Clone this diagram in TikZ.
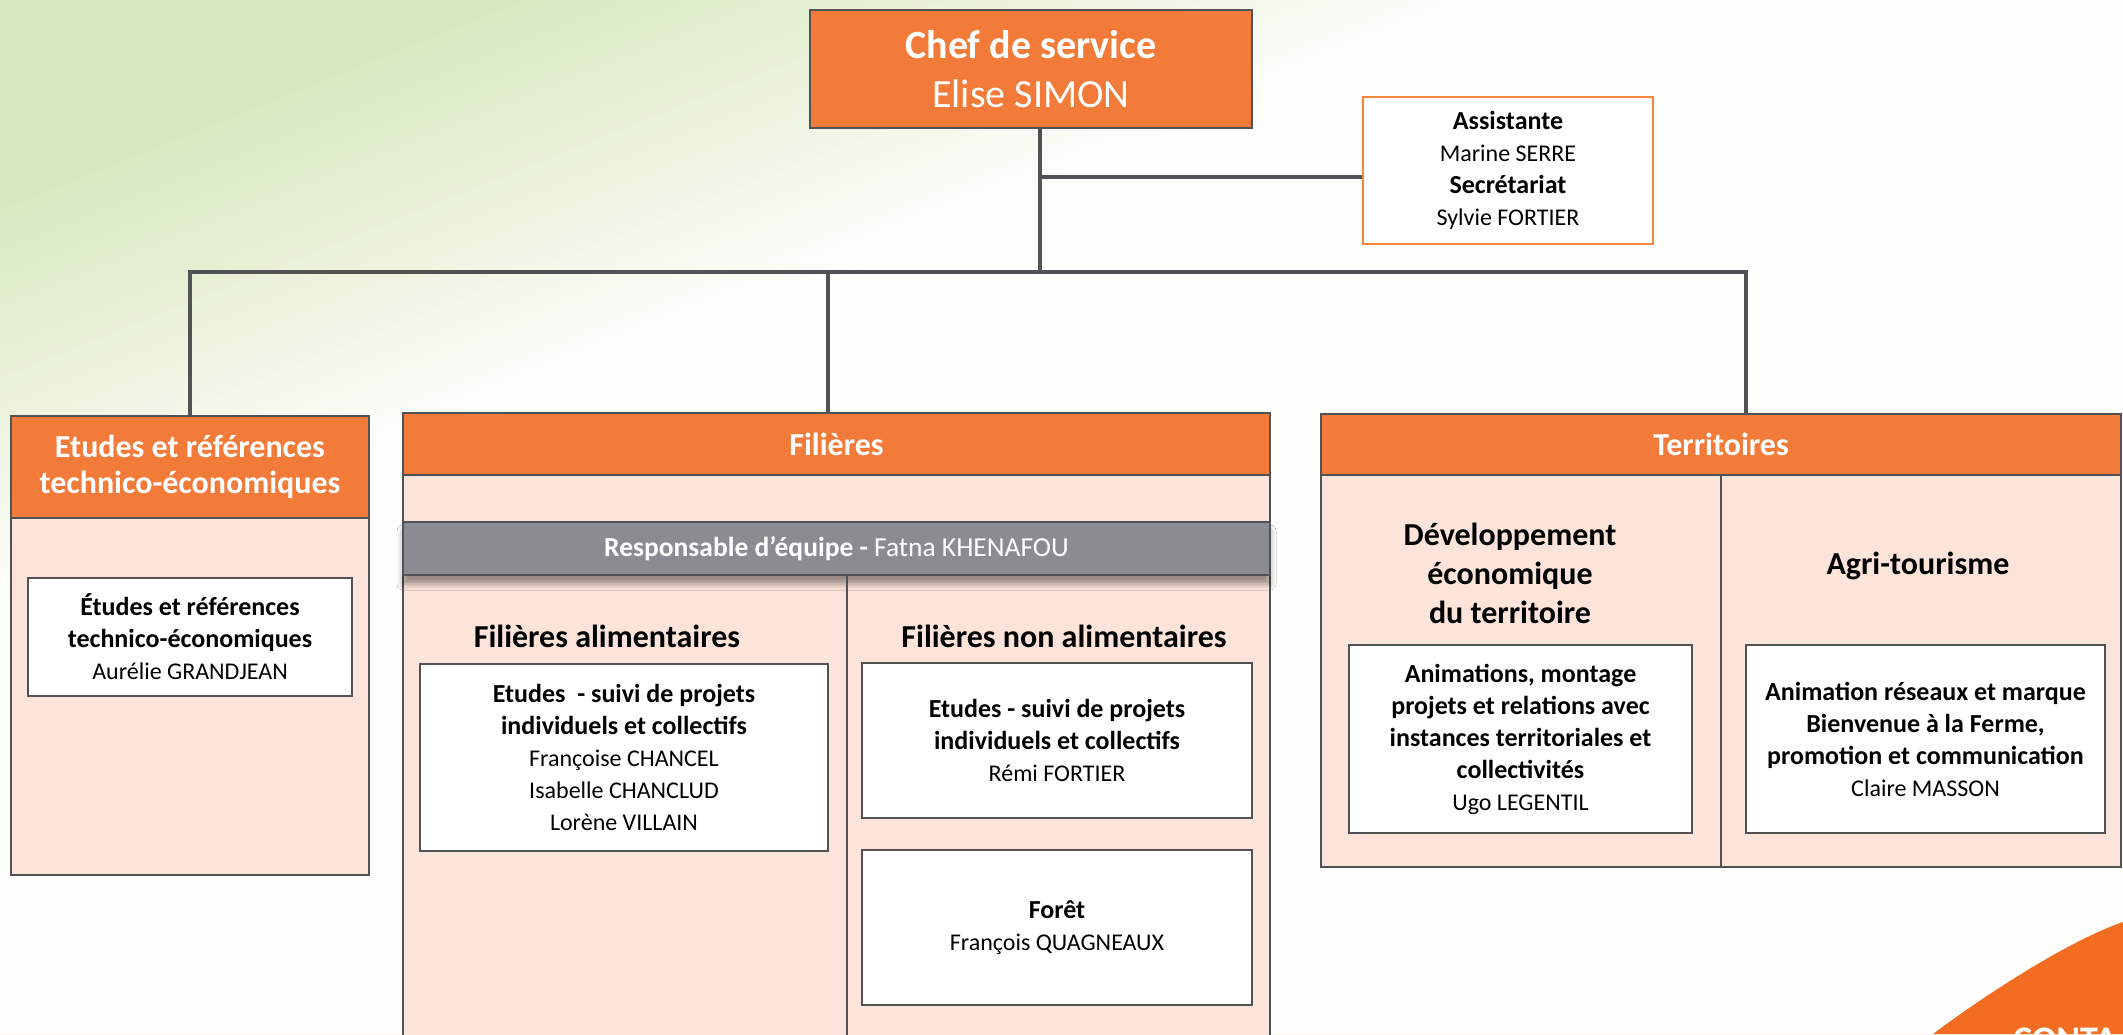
\documentclass[tikz,border=0pt]{standalone}
\usepackage{fontspec}
\setmainfont{Carlito}
\usetikzlibrary{shadows.blur}

\definecolor{hdrorange}{RGB}{242,123,58}
\definecolor{cornerorange}{RGB}{242,108,33}
\definecolor{bodypink}{RGB}{252,228,219}
\definecolor{edgegrey}{RGB}{80,82,86}
\definecolor{bandgrey}{RGB}{137,140,144}
\definecolor{assistorange}{RGB}{245,133,66}
\definecolor{bggreen}{RGB}{216,232,190}

\newcommand{\who}[1]{{\mdseries\fontsize{24}{30}\selectfont #1}}

\tikzset{
	wh/.style 2 args={minimum width=#1pt, minimum height=#2pt},
	hdr/.style={fill=hdrorange, draw=edgegrey, line width=2.5pt, text=white, align=center, inner sep=0pt, font=\fontsize{32}{36}\selectfont\bfseries},
	panel/.style={fill=bodypink, draw=edgegrey, line width=2.5pt, inner sep=0pt},
	card/.style={fill=white, draw=edgegrey, line width=2.5pt, align=center, inner sep=0pt, font=\fontsize{26}{32}\selectfont\bfseries},
	sub/.style={align=center, inner sep=0pt, font=\fontsize{32}{39}\selectfont\bfseries},
	link/.style={draw=edgegrey, line width=3.5pt},
}

\begin{document}
\begin{tikzpicture}[x=1pt,y=-1pt]

	\pgfmathsetmacro{\busy}{272}
	\pgfmathsetmacro{\slope}{0.4}

	\useasboundingbox (0,0) rectangle (2123,1034);
	\clip (0,0) rectangle (2123,1034);

	% background
	\fill[bggreen] (0,0) rectangle (2123,1034);
	\foreach \i in {0,...,38}{
		\pgfmathsetmacro{\pct}{max(0,100-2.5*(\i+1))}
		\pgfmathsetmacro{\ya}{210+10.5*\i}
		\pgfmathsetmacro{\yb}{\ya-\slope*2123}
		\fill[bggreen!\pct!white] (0,\ya) -- (2123,\yb) -- (2123,1034) -- (0,1034) -- cycle;
	}

	% corner
	\fill[cornerorange] (1933,1034) .. controls (1978,1000) and (2065,942) .. (2123,922) -- (2123,1034) -- cycle;
	\node[anchor=north west, inner sep=0pt, text=white, font=\fontsize{36}{40}\selectfont\bfseries] (contact) at (2013,1028) {CONTA};

	% chef and assistant
	\node[hdr, wh={442}{118}, font=\fontsize{40}{49}\selectfont] (chef) at (1031,69) {\textbf{Chef de service}\\Elise SIMON};
	\node[card, draw=assistorange, wh={290}{147}] (assist) at (1508,170.5)
		{Assistante\\\who{Marine SERRE}\\Secrétariat\\\who{Sylvie FORTIER}};

	% etudes
	\node[panel, wh={358}{357}] (etBody) at (190,696.5) {};
	\node[hdr, wh={358}{102}, font=\fontsize{32}{36}\selectfont\bfseries] (etHdr) at (190,467) {Etudes et références\\technico-économiques};
	\node[card, wh={324}{118}] (etCard) at (190,637) {Études et références\\technico-économiques\\\who{Aurélie GRANDJEAN}};

	% filieres
	\node[panel, wh={867}{570}] (filBody) at (836.5,760) {};
	\node[hdr, wh={867}{62}] (filHdr) at (836.5,444) {Filières};
	\node[fill=bandgrey, draw=edgegrey, line width=2pt, wh={867}{53}, inner sep=0pt, text=white,
		font=\fontsize{27.5}{30}\selectfont,
		blur shadow={shadow xshift=0pt, shadow yshift=-9pt, shadow blur radius=6pt, shadow opacity=40}]
		(band) at (836.5,548.5) {\textbf{Responsable d’équipe -} Fatna KHENAFOU};
	\coordinate (fdiv) at (847,1045);
	\draw[edgegrey, line width=2pt] (fdiv |- band.south) -- (fdiv);

	\node[sub, anchor=base] (alim) at (607,647) {Filières alimentaires};
	\node[sub, anchor=base] (nonalim) at (1064,647) {Filières non alimentaires};
	\node[card, wh={408}{187}] (alimCard) at (624,757.5)
		{Etudes \ - suivi de projets\\individuels et collectifs\\\who{Françoise CHANCEL}\\\who{Isabelle CHANCLUD}\\\who{Lorène VILLAIN}};
	\node[card, wh={390}{155}] (nonCard) at (1057,740.5)
		{Etudes - suivi de projets\\individuels et collectifs\\\who{Rémi FORTIER}};
	\node[card, wh={390}{155}] (foret) at (1057,927.5) {Forêt\\\who{François QUAGNEAUX}};

	% territoires
	\node[panel, wh={800}{392}] (terBody) at (1721,671) {};
	\node[hdr, wh={800}{61}] (terHdr) at (1721,444.5) {Territoires};
	\draw[edgegrey, line width=2pt] (terHdr.south) -- (terBody.south);

	\node[sub] (dev) at (1510,573) {Développement\\économique\\du territoire};
	\node[sub, anchor=base] (agri) at (1918,574) {Agri-tourisme};
	\node[card, wh={343}{188}] (devCard) at (1520.5,739)
		{Animations, montage\\projets et relations avec\\instances territoriales et\\collectivités\\\who{Ugo LEGENTIL}};
	\node[card, wh={359}{188}] (agriCard) at (1925.5,739)
		{Animation réseaux et marque\\Bienvenue à la Ferme,\\promotion et communication\\\who{Claire MASSON}};

	% links
	\coordinate (jC) at (1040,\busy);
	\coordinate (jA) at (1040,177);
	\coordinate (jE) at (190,\busy);
	\coordinate (jF) at (828,\busy);
	\coordinate (jT) at (1746,\busy);
	\draw[link] (jC |- chef.south) -- (jC);
	\draw[link] (jA) -- (jA -| assist.west);
	\draw[link, line width=4.5pt, line cap=rect] (jE) -- (jT);
	\draw[link] (jE) -- (jE |- etHdr.north);
	\draw[link] (jF) -- (jF |- filHdr.north);
	\draw[link] (jT) -- (jT |- terHdr.north);

\end{tikzpicture}
\end{document}
